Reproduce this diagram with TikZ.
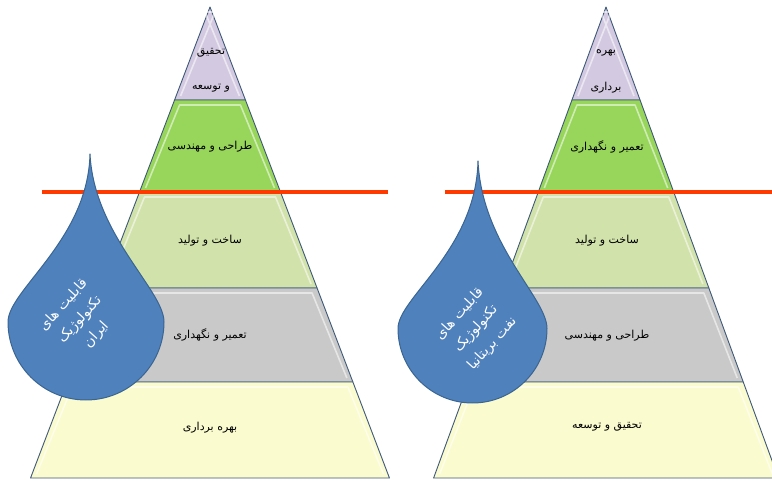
\documentclass[tikz,border=0pt]{standalone}
\usepackage{fontspec}
\newfontfamily\arabicfont[Script=Arabic]{DejaVu Sans}
\TeXXeTstate=1
\definecolor{lavender}{HTML}{D3CAE2}
\definecolor{brightgreen}{HTML}{98D55B}
\definecolor{palegreen}{HTML}{D1E2AA}
\definecolor{midgray}{HTML}{C9C9C9}
\definecolor{paleyellow}{HTML}{FBFBD0}
\definecolor{edgeblue}{HTML}{3E5878}
\definecolor{redline}{HTML}{FF3A00}
\definecolor{dropfill}{HTML}{4F81BD}
\definecolor{dropedge}{HTML}{3A6591}
% level: cx, slope, ytop, ybot, fill
\newcommand\pyrlevel[5]{%
  \draw[levelbox, fill=#5]
    ({#1-#2*(#3-7)},{480-#3}) -- ({#1+#2*(#3-7)},{480-#3}) --
    ({#1+#2*(#4-7)},{480-#4}) -- ({#1-#2*(#4-7)},{480-#4}) -- cycle;
  \draw[bevel]
    ({#1-#2*(#4-7)+6},{480-#4+4}) -- ({#1-#2*(#3-7)+5},{480-#3-5}) --
    ({#1+#2*(#3-7)-5},{480-#3-5}) -- ({#1+#2*(#4-7)-6},{480-#4+4});
}
% drop: cx, cy, r, tipdx, tipdy
\newcommand\tear[5]{%
  \draw[dropbox]
    ({#1+#4},{#2+#5})
    .. controls ({#1+#4-2},{#2+82*#3/78}) and ({#1-#3},{#2+32*#3/78}) .. ({#1-#3},#2)
    arc[start angle=180, end angle=360, radius=#3]
    .. controls ({#1+#3},{#2+32*#3/78}) and ({#1+#4+4},{#2+87*#3/78}) .. cycle;
}
\begin{document}
\begin{tikzpicture}[x=1pt, y=1pt,
  levelbox/.style={draw=edgeblue, line width=0.9pt, line join=round},
  bevel/.style={draw=white, opacity=0.55, line width=1.6pt, line join=round},
  lbl/.style={font=\arabicfont\fontsize{11}{13}\selectfont, text=black, inner sep=1pt},
  droplbl/.style={font=\arabicfont\fontsize{14}{22}\selectfont, text=white, align=center, inner sep=1pt},
  dropbox/.style={fill=dropfill, draw=dropedge, line width=1pt, line join=round},
  redbar/.style={draw=redline, line width=4.5pt}]
\clip (0,0) rectangle (772,480);
\fill[white] (0,0) rectangle (772,480);

% ---------- left pyramid ----------
\pyrlevel{210}{0.381}{7}{100}{lavender}
\pyrlevel{210}{0.381}{100}{192}{brightgreen}
\pyrlevel{210}{0.381}{192}{288}{palegreen}
\pyrlevel{210}{0.381}{288}{382}{midgray}
\pyrlevel{210}{0.381}{382}{478}{paleyellow}
\node[lbl] (l1a) at (211,427) {\beginR تحقیق\endR};
\node[lbl] (l1b) at (211,392) {\beginR و توسعه\endR};
\node[lbl] (l2) at (210,333) {\beginR طراحی و مهندسی\endR};
\node[lbl] (l3) at (210,239) {\beginR ساخت و تولید\endR};
\node[lbl] (l4) at (210,145) {\beginR تعمیر و نگهداری\endR};
\node[lbl] (l5) at (210,52) {\beginR بهره برداری\endR};

% ---------- right pyramid ----------
\pyrlevel{606}{0.366}{7}{100}{lavender}
\pyrlevel{606}{0.366}{100}{192}{brightgreen}
\pyrlevel{606}{0.366}{192}{288}{palegreen}
\pyrlevel{606}{0.366}{288}{382}{midgray}
\pyrlevel{606}{0.366}{382}{478}{paleyellow}
\node[lbl] (r1a) at (606,427) {\beginR بهره\endR};
\node[lbl] (r1b) at (606,392) {\beginR برداری\endR};
\node[lbl] (r2) at (607,333) {\beginR تعمیر و نگهداری\endR};
\node[lbl] (r3) at (607,239) {\beginR ساخت و تولید\endR};
\node[lbl] (r4) at (607,144) {\beginR طراحی و مهندسی\endR};
\node[lbl] (r5) at (607,53) {\beginR تحقیق و توسعه\endR};

% ---------- red lines ----------
\coordinate (redLa) at (42,288);
\coordinate (redLb) at (388,288);
\coordinate (redRa) at (445,288);
\coordinate (redRb) at (772,288);
\draw[redbar] (redLa) -- (redLb);
\draw[redbar] (redRa) -- (redRb);

% ---------- drops ----------
\tear{86}{158}{78}{4}{168}
\node[droplbl, rotate=48] (dropL) at (80,160)
  {\beginR قابلیت های\endR\\\beginR تکنولوژیک\endR\\\beginR ایران\endR};
\tear{472.5}{151.5}{74.5}{5.5}{167.5}
\node[droplbl, rotate=48] (dropR) at (476,151)
  {\beginR قابلیت های\endR\\\beginR تکنولوژیک\endR\\\beginR نفت بریتانیا\endR};
\end{tikzpicture}
\end{document}
